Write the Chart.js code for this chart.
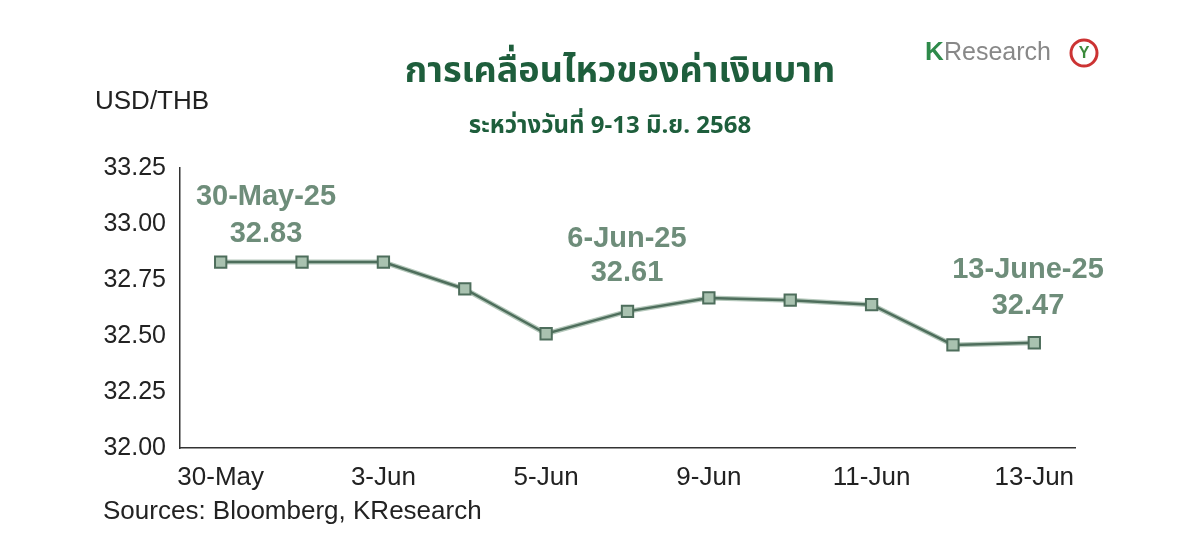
<!DOCTYPE html>
<html><head><meta charset="utf-8">
<script src="https://cdn.jsdelivr.net/npm/chart.js@4"></script>
<style>html,body{margin:0;padding:0;background:#fff}#w{width:1200px;height:549px}</style>
</head><body><div id="w"><canvas id="c"></canvas></div>
<script>
const categories=["30-May","2-Jun","3-Jun","4-Jun","5-Jun","6-Jun","9-Jun","10-Jun","11-Jun","12-Jun","13-Jun"];
const usdthb=[32.83,32.83,32.83,32.71,32.51,32.61,32.67,32.66,32.64,32.46,32.47];
const callouts=[{t1:"30-May-25",t2:"32.83"},{t1:"6-Jun-25",t2:"32.61"},{t1:"13-June-25",t2:"32.47"}];
const calloutPos=[[266,197,234],[627,239,273],[1028,270,306]];
const F="'Liberation Sans',Arial,sans-serif";
const deco={id:'deco',afterDatasetsDraw(ch){const c=ch.ctx;c.save();
c.textAlign='center';c.textBaseline='middle';
c.fillStyle='#1e5e3c';c.font="bold 36px 'Noto Sans Thai','Noto Sans',sans-serif";c.fillText("การเคลื่อนไหวของค่าเงินบาท",620,75);
c.font="bold 24px 'Noto Sans Thai','Noto Sans',sans-serif";c.fillText("ระหว่างวันที่ 9-13 มิ.ย. 2568",610,128);
c.fillStyle='#222';c.font="26px "+F;c.textAlign='left';c.fillText("USD/THB",95,102);
c.fillText("Sources: Bloomberg, KResearch",103,512);
c.font="bold 26px "+F;c.fillStyle='#2e8a4a';c.fillText("K",925,53);c.fillStyle='#888';c.font="25px "+F;c.fillText("Research",944,53);
c.beginPath();c.arc(1084,53,13,0,7);c.strokeStyle='#c33';c.lineWidth=3;c.stroke();c.fillStyle='#3a8a3a';c.font="bold 16px "+F;c.textAlign='center';c.fillText("Y",1084,54);
c.fillStyle='#6e8d7a';c.font="bold 29px "+F;
callouts.forEach((o,k)=>{const p=calloutPos[k];c.fillText(o.t1,p[0],p[1]);c.fillText(o.t2,p[0],p[2]);});
c.restore();}};
new Chart(document.getElementById('c'),{type:'line',
data:{labels:categories,datasets:[
{data:usdthb,borderColor:'#b5c8bb',borderWidth:5,pointRadius:0,tension:0,order:2},
{data:usdthb,borderColor:'#4e6e5c',borderWidth:2.5,pointStyle:'rect',pointRadius:8,pointBackgroundColor:'#a9c2b0',pointBorderColor:'#4e6e5c',pointBorderWidth:2,tension:0,order:1}]},
options:{responsive:true,maintainAspectRatio:false,animation:false,
layout:{padding:{left:0,right:125,top:168,bottom:0}},
plugins:{legend:{display:false},tooltip:{enabled:false}},
scales:{
x:{offset:true,grid:{display:false,drawOnChartArea:false,drawTicks:true,tickLength:8,tickColor:'#333'},border:{color:'#333',width:1.5},
 ticks:{autoSkip:false,maxRotation:0,color:'#222',font:{size:26,family:F},padding:6,callback:(v,i)=>i%2===0?categories[i]:''},
 afterFit(s){s.height=101;}},
y:{min:32,max:33.25,grid:{display:false,drawOnChartArea:false,drawTicks:true,tickLength:8,tickColor:'#333'},border:{color:'#333',width:1.5},
 ticks:{stepSize:0.25,color:'#222',font:{size:25,family:F},padding:6,callback:v=>v.toFixed(2)},
 afterFit(s){s.width=180;}}}},
plugins:[deco]});
</script></body></html>
